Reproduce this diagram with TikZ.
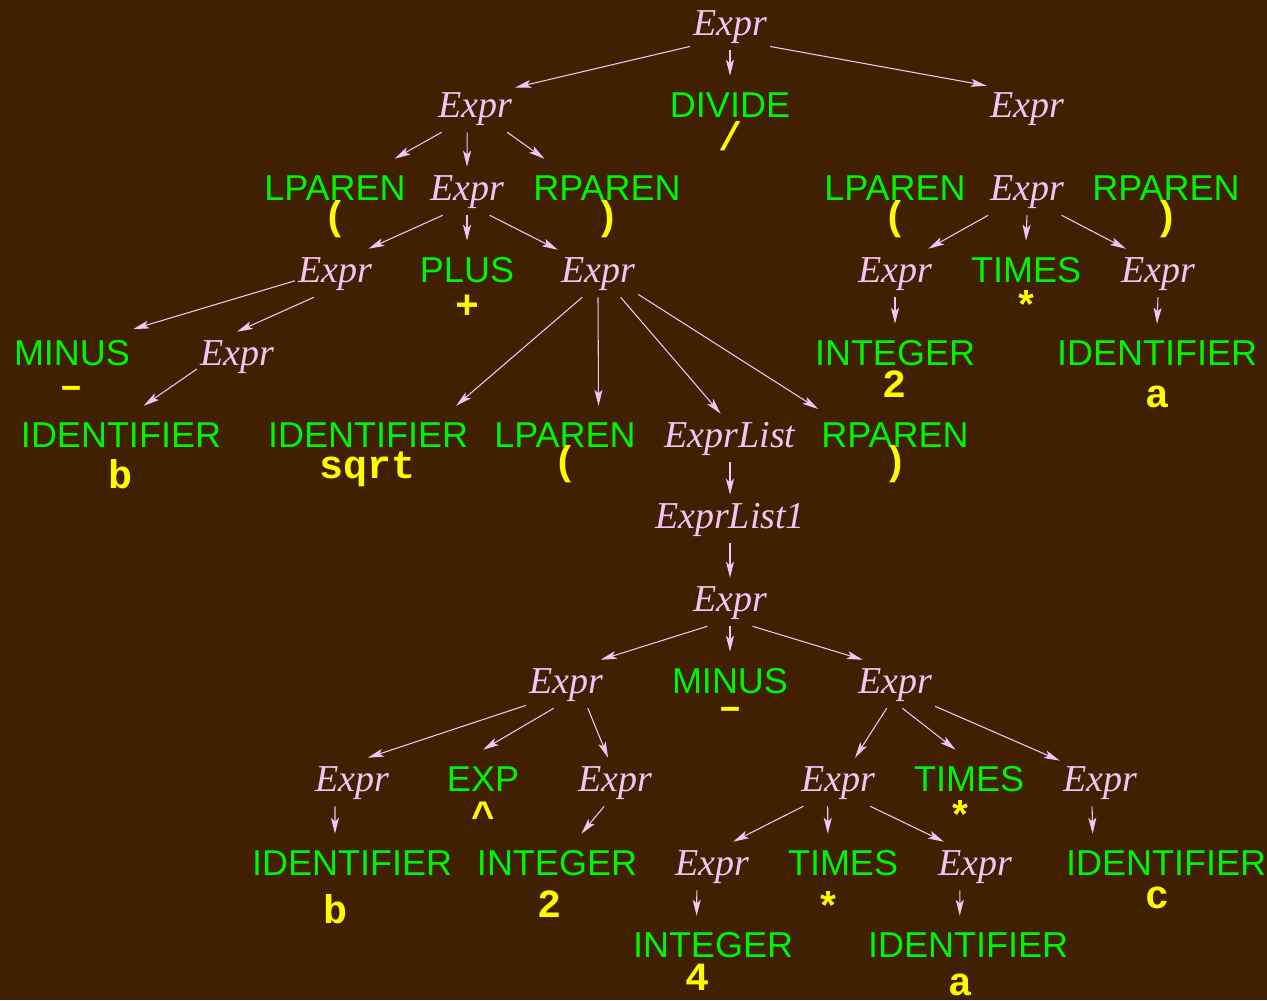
\documentclass[tikz,border=0pt]{standalone}
\usepackage{fontspec}
\usetikzlibrary{arrows.meta}
\newfontfamily\exprfont{Liberation Serif}
\newfontfamily\tokfont{Liberation Sans}
\newfontfamily\valfont{Liberation Mono}
\definecolor{bgbrown}{RGB}{64,32,0}
\definecolor{exprpink}{RGB}{245,195,245}
\definecolor{tokgreen}{RGB}{0,245,0}
\definecolor{valyellow}{RGB}{255,250,0}

\begin{document}
\begin{tikzpicture}[x=0.75pt,y=0.75pt,yscale=-1,xscale=1,
  nt/.style={anchor=base,text=exprpink,font=\exprfont\itshape\fontsize{28.5}{30}\selectfont,text height=18pt,text depth=4.5pt,inner xsep=2.25pt,inner ysep=6.75pt},
  tok/.style={anchor=base,text=tokgreen,font=\tokfont\fontsize{27}{30}\selectfont,text height=24pt,text depth=0pt,inner xsep=2.25pt,inner ysep=6.75pt},
  val/.style={anchor=base,text=valyellow,font=\valfont\bfseries\fontsize{30}{32}\selectfont,inner sep=0pt},
  edge/.style={draw=exprpink,line width=0.8pt,-{Stealth[length=12pt,width=6pt,inset=2.8pt]}}]
%set diagram size 1267 x 1000
\fill[bgbrown] (0,0) rectangle (1267,1000);
\useasboundingbox (0,0) rectangle (1267,1000);

% Text Node: root
\node[nt] (e0) at (730,35) {Expr};
% Text Node: level 1
\node[nt] (e1l) at (475,117) {Expr};
\node[tok] (divide) at (730,117) {DIVIDE};
\node[val] (dividev) at (730,150) {/};
\node[nt] (e1r) at (1027,117) {Expr};
% Text Node: level 2
\node[tok] (lp2l) at (335,200) {LPAREN};
\node[val] (lp2lv) at (335,229) {(};
\node[nt] (e2l) at (467,200) {Expr};
\node[tok] (rp2l) at (607,200) {RPAREN};
\node[val] (rp2lv) at (607,229) {)};
\node[tok] (lp2r) at (895,200) {LPAREN};
\node[val] (lp2rv) at (895,229) {(};
\node[nt] (e2r) at (1027,200) {Expr};
\node[tok] (rp2r) at (1166,200) {RPAREN};
\node[val] (rp2rv) at (1166,229) {)};
% Text Node: level 3
\node[nt] (e3ll) at (335,282) {Expr};
\node[tok] (plus) at (467,282) {PLUS};
\node[val] (plusv) at (467,318) {+};
\node[nt] (e3lr) at (598,282) {Expr};
\node[nt] (e3rl) at (895,282) {Expr};
\node[tok] (times3) at (1026,282) {TIMES};
\node[val] (times3v) at (1026,319) {*};
\node[nt] (e3rr) at (1158,282) {Expr};
% Text Node: level 4
\node[tok] (minus4) at (72,365) {MINUS};
\node[val] (minus4v) at (72,398) {\textendash};
\node[nt] (e4) at (237,365) {Expr};
\node[tok] (int4) at (895,365) {INTEGER};
\node[val] (int4v) at (894,397) {2};
\node[tok] (id4) at (1157,365) {IDENTIFIER};
\node[val] (id4v) at (1157,407) {a};
% Text Node: level 5
\node[tok] (id5b) at (121,447) {IDENTIFIER};
\node[val] (id5bv) at (121,488) {b};
\node[tok] (id5sqrt) at (368,447) {IDENTIFIER};
\node[val] (id5sqrtv) at (368,478) {sqrt};
\node[tok] (lp5) at (565,447) {LPAREN};
\node[val] (lp5v) at (565,474) {(};
\node[nt] (elist) at (730,447) {ExprList};
\node[tok] (rp5) at (895,447) {RPAREN};
\node[val] (rp5v) at (895,474) {)};
% Text Node: levels 6 and 7
\node[nt] (elist1) at (730,528) {ExprList1};
\node[nt] (e7) at (730,611) {Expr};
% Text Node: level 8
\node[nt] (e8l) at (566,693) {Expr};
\node[tok] (minus8) at (730,693) {MINUS};
\node[val] (minus8v) at (730,719) {\textendash};
\node[nt] (e8r) at (895,693) {Expr};
% Text Node: level 9
\node[nt] (e9a) at (352,791) {Expr};
\node[tok] (exp9) at (483,791) {EXP};
\node[val] (exp9v) at (483,829) {\textasciicircum};
\node[nt] (e9c) at (615,791) {Expr};
\node[nt] (e9d) at (838,791) {Expr};
\node[tok] (times9) at (969,791) {TIMES};
\node[val] (times9v) at (960,829) {*};
\node[nt] (e9f) at (1100,791) {Expr};
% Text Node: level 10
\node[tok] (id10) at (352,875) {IDENTIFIER};
\node[val] (id10v) at (335,923) {b};
\node[tok] (int10) at (557,875) {INTEGER};
\node[val] (int10v) at (549,917) {2};
\node[nt] (e10c) at (712,875) {Expr};
\node[tok] (times10) at (843,875) {TIMES};
\node[val] (times10v) at (828,920) {*};
\node[nt] (e10e) at (975,875) {Expr};
\node[tok] (id10c) at (1166,875) {IDENTIFIER};
\node[val] (id10cv) at (1157,908) {c};
% Text Node: level 11
\node[tok] (int11) at (713,957) {INTEGER};
\node[val] (int11v) at (697,990) {4};
\node[tok] (id11) at (968,957) {IDENTIFIER};
\node[val] (id11v) at (960,995) {a};

%Straight Lines: upper half
\draw[edge] (e0.-153) -- (e1l.27);
\draw[edge] (e0.south) -- (divide.north);
\draw[edge] (e0.-27) -- (e1r.151);
\draw[edge] (e1l.-144) -- (lp2l.23);
\draw[edge] (e1l.-108) -- (e2l.north);
\draw[edge] (e1l.-37) -- (rp2l.158);
\draw[edge] (e2l.-135) -- (e3ll.36);
\draw[edge] (e2l.south) -- (plus.north);
\draw[edge] (e2l.-47) -- (e3lr.150);
\draw[edge] (e2r.-148) -- (e3rl.36);
\draw[edge] (e2r.south) -- (times3.north);
\draw[edge] (e2r.-35) -- (e3rr.143);
\draw[edge] (e3ll.-169) -- (minus4.18);
\draw[edge] (e3ll.-131) -- (e4.north);
\draw[edge] (e4.-162) -- (id5b.48);
\draw[edge] (e3lr.-123) -- (id5sqrt.16);
\draw[edge] (e3lr.south) -- (lp5.37);
\draw[edge] (e3lr.-47) -- (elist.111);
\draw[edge] (e3lr.-28) -- (rp5.164);
\draw[edge] (e3rl.south) -- (int4.north);
\draw[edge] (e3rr.south) -- (id4.north);
%Straight Lines: lower half
\draw[edge] (elist.south) -- (elist1.north);
\draw[edge] (elist1.south) -- (e7.north);
\draw[edge] (e7.-133) -- (e8l.35);
\draw[edge] (e7.south) -- (minus8.north);
\draw[edge] (e7.-47) -- (e8r.143);
\draw[edge] (e8l.-152) -- (e9a.57);
\draw[edge] (e8l.-117) -- (exp9.north);
\draw[edge] (e8l.-48) -- (e9c.106);
\draw[edge] (e9a.-125) -- (id10.124);
\draw[edge] (e9c.-114) -- (int10.46);
\draw[edge] (e8r.-109) -- (e9d.55);
\draw[edge] (e8r.-73) -- (times9.118);
\draw[edge] (e8r.-29) -- (e9f.152);
\draw[edge] (e9d.-145) -- (e10c.49);
\draw[edge] (e9d.-113) -- (times10.121);
\draw[edge] (e9d.-37) -- (e10e.142);
\draw[edge] (e9f.-108) -- (id10c.161);
\draw[edge] (e10c.-122) -- (int11.123);
\draw[edge] (e10e.-122) -- (id11.108);
\end{tikzpicture}
\end{document}
